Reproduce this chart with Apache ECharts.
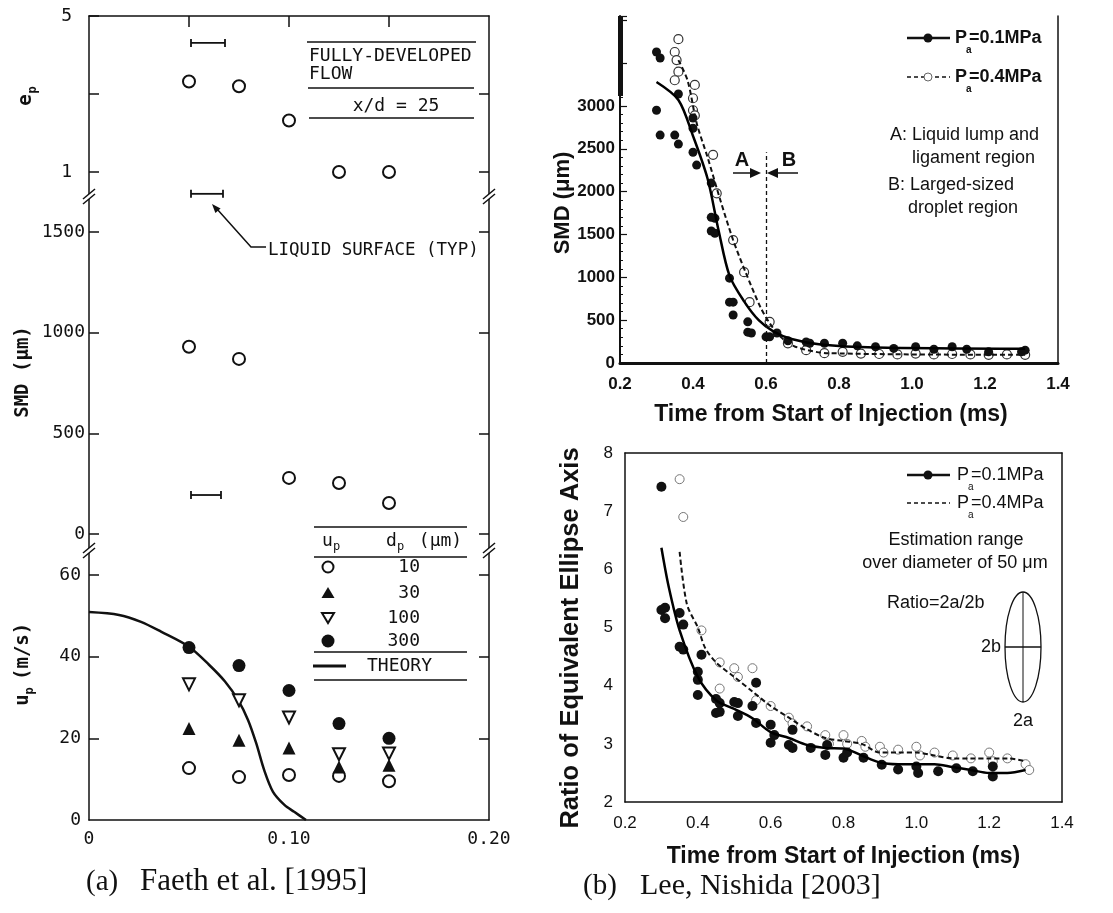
<!DOCTYPE html>
<html><head><meta charset="utf-8">
<script src="https://cdn.jsdelivr.net/npm/echarts@6/dist/echarts.min.js"></script>
<style>html,body{margin:0;padding:0;background:#fff}#c{width:1113px;height:913px}</style>
</head><body><div id="c"></div>
<script>
// ===== (a) Faeth et al. [1995] : r/x (radial position) =====
const radialPos = [0.05, 0.075, 0.10, 0.125, 0.15];
const epValues  = [3.32, 3.20, 2.32, 1.00, 1.00];
const smdValues = [930, 870, 279, 254, 154];
const upD10  = [12.7, 10.5, 11.0, 10.8, 9.5];
const upD30  = [22.4, 19.5, 17.6, 13.0, 13.4];
const upD100 = [33.2, 29.3, 25.1, 16.1, 16.3];
const upD300 = [42.2, 37.8, 31.7, 23.6, 20.0];
const theoryR = [0, 0.015, 0.026, 0.036, 0.05, 0.06, 0.068, 0.0745, 0.0795, 0.0836, 0.0876, 0.092, 0.0977, 0.1026, 0.1085];
const theoryU = [50.9, 50.2, 48.5, 46.1, 42.4, 38.0, 33.9, 29.4, 24.5, 18.8, 12.2, 6.9, 3.7, 2.0, 0];
const epSurfaceBars  = [[0.051, 0.068, 4.31], [0.051, 0.067, 0.44]];
const smdSurfaceBars = [[0.051, 0.066, 194]];
const epTickVals = [1, 3, 5], epLabelVals = [1, 5];
const smdTickVals = [0, 500, 1000, 1500];
const upTickVals = [20, 40, 60], upLabelVals = [0, 20, 40, 60];
const xTickLabelsA = [0, 0.10, 0.20];
const xTopTicksA = [0.05, 0.10, 0.15];

// ===== (b) Lee, Nishida [2003] : SMD vs time =====
const smdPts01 = [[0.30,3630],[0.31,3560],[0.30,2950],[0.31,2660],[0.35,2660],[0.36,2555],[0.36,3140],[0.40,2860],[0.40,2740],[0.40,2460],[0.41,2310],[0.45,2100],[0.45,1700],[0.46,1690],[0.45,1540],[0.46,1515],[0.50,990],[0.50,710],[0.51,710],[0.51,560],[0.55,480],[0.55,360],[0.56,350],[0.60,305],[0.61,305],[0.63,350],[0.66,260],[0.71,245],[0.72,230],[0.76,230],[0.81,230],[0.85,200],[0.90,190],[0.95,170],[1.01,190],[1.06,160],[1.11,190],[1.15,160],[1.21,130],[1.30,130],[1.31,150]];
const smdPts04 = [[0.36,3780],[0.35,3630],[0.355,3535],[0.36,3400],[0.35,3300],[0.405,3245],[0.40,3090],[0.40,2950],[0.405,2890],[0.455,2430],[0.465,1980],[0.51,1435],[0.54,1060],[0.555,710],[0.61,480],[0.66,230],[0.71,150],[0.76,115],[0.81,130],[0.86,110],[0.91,105],[0.96,100],[1.01,110],[1.06,100],[1.11,105],[1.16,100],[1.21,95],[1.26,100],[1.31,95]];
const smdFit01 = [[0.30,3280],[0.36,3070],[0.40,2650],[0.44,2150],[0.47,1550],[0.50,1020],[0.54,720],[0.58,500],[0.62,370],[0.67,280],[0.75,215],[0.90,180],[1.31,165]];
const smdFit04 = [[0.36,3535],[0.385,3300],[0.41,2800],[0.44,2400],[0.475,1900],[0.51,1435],[0.545,1050],[0.585,650],[0.61,465],[0.64,305],[0.68,190],[0.77,115],[1.31,95]];
const regionBoundary = 0.6;
const smdLabelVals = [0, 500, 1000, 1500, 2000, 2500, 3000];

// ===== (b) Ratio of equivalent ellipse axis vs time =====
const ratioPts01 = [[0.30,7.42],[0.30,5.30],[0.31,5.34],[0.31,5.16],[0.35,4.67],[0.36,4.62],[0.36,5.05],[0.35,5.25],[0.40,4.24],[0.40,4.10],[0.40,3.84],[0.41,4.53],[0.45,3.77],[0.46,3.70],[0.45,3.53],[0.46,3.55],[0.50,3.72],[0.51,3.70],[0.51,3.48],[0.55,3.65],[0.56,4.05],[0.56,3.36],[0.60,3.33],[0.61,3.15],[0.60,3.02],[0.65,2.98],[0.66,3.24],[0.66,2.93],[0.71,2.93],[0.75,2.81],[0.755,2.98],[0.80,2.76],[0.81,2.85],[0.855,2.76],[0.905,2.64],[0.95,2.56],[1.00,2.61],[1.005,2.50],[1.06,2.53],[1.11,2.58],[1.155,2.53],[1.21,2.44],[1.21,2.61]];
const ratioPts04 = [[0.35,7.55],[0.36,6.9],[0.41,4.95],[0.46,4.4],[0.46,3.95],[0.50,4.3],[0.51,4.15],[0.55,4.3],[0.56,3.75],[0.60,3.65],[0.65,3.45],[0.66,3.35],[0.70,3.3],[0.75,3.15],[0.76,3.0],[0.80,3.15],[0.81,3.0],[0.85,3.05],[0.86,2.95],[0.90,2.95],[0.91,2.85],[0.95,2.9],[1.00,2.95],[1.01,2.8],[1.05,2.85],[1.10,2.8],[1.15,2.75],[1.20,2.85],[1.21,2.7],[1.25,2.75],[1.30,2.65],[1.31,2.55]];
const ratioFit01 = [[0.30,6.37],[0.32,5.7],[0.35,4.95],[0.40,4.15],[0.45,3.75],[0.50,3.6],[0.55,3.44],[0.60,3.2],[0.65,3.1],[0.70,2.98],[0.75,2.93],[0.80,2.92],[0.85,2.8],[0.90,2.68],[0.95,2.65],[1.00,2.65],[1.05,2.65],[1.10,2.6],[1.15,2.55],[1.20,2.5],[1.25,2.5],[1.30,2.55]];
const ratioFit04 = [[0.35,6.3],[0.37,5.4],[0.40,5.0],[0.42,4.65],[0.45,4.4],[0.50,4.15],[0.55,3.9],[0.60,3.65],[0.65,3.45],[0.70,3.25],[0.75,3.1],[0.80,3.05],[0.85,3.0],[0.90,2.85],[0.95,2.85],[1.00,2.85],[1.05,2.8],[1.10,2.75],[1.15,2.75],[1.20,2.75],[1.25,2.75],[1.30,2.7]];

const INK = '#111';
const MONO = '"DejaVu Sans Mono", monospace';
const SANS = '"Liberation Sans", Arial, sans-serif';
const SERIF = '"Liberation Serif", "Times New Roman", serif';

const zip = (xs, ys) => xs.map((x, i) => [x, ys[i]]);
const plain = v => String(v);

function errBar(params, api) {
  const y = api.value(2);
  const a = api.coord([api.value(0), y]);
  const b = api.coord([api.value(1), y]);
  const st = {stroke: INK, lineWidth: 1.8};
  return {type: 'group', children: [
    {type: 'line', shape: {x1: a[0], y1: a[1], x2: b[0], y2: b[1]}, style: st},
    {type: 'line', shape: {x1: a[0], y1: a[1] - 4, x2: a[0], y2: a[1] + 4}, style: st},
    {type: 'line', shape: {x1: b[0], y1: b[1] - 4, x2: b[0], y2: b[1] + 4}, style: st}
  ]};
}

const monoLabel = {fontFamily: MONO, fontSize: 18, color: INK};
function leftY(grid, min, max, ticks, labels, margin) {
  return {gridIndex: grid, type: 'value', position: 'left', min, max,
    axisLine: {show: true, lineStyle: {color: INK, width: 1.5}},
    axisTick: {show: true, inside: true, length: 10, customValues: ticks, lineStyle: {color: INK, width: 1.5}},
    axisLabel: Object.assign({show: labels.length > 0, customValues: labels, margin: margin, formatter: plain}, monoLabel),
    splitLine: {show: false}};
}
function rightY(grid, min, max, ticks) {
  return {gridIndex: grid, type: 'value', position: 'right', min, max,
    axisLine: {show: true, lineStyle: {color: INK, width: 1.5}},
    axisTick: {show: true, inside: true, length: 10, customValues: ticks, lineStyle: {color: INK, width: 1.5}},
    axisLabel: {show: false}, splitLine: {show: false}};
}
const openDot = (size, stroke, w) => ({symbol: 'circle', symbolSize: size, itemStyle: {color: '#fff', borderColor: stroke, borderWidth: w, opacity: 1}});
const fullDot = (size) => ({symbol: 'circle', symbolSize: size, itemStyle: {color: INK, opacity: 1}});

const option = {
  backgroundColor: '#fff',
  animation: false,
  grid: [
    {left: 89, top: 16, width: 400, height: 182, outerBoundsMode: 'none'},
    {left: 89, top: 198, width: 400, height: 354, outerBoundsMode: 'none'},
    {left: 89, top: 552, width: 400, height: 268, outerBoundsMode: 'none'},
    {left: 620, top: 16, width: 438, height: 347, outerBoundsMode: 'none'},
    {left: 625, top: 453, width: 437, height: 349, outerBoundsMode: 'none'}
  ],
  xAxis: [
    {gridIndex: 0, type: 'value', position: 'top', min: 0, max: 0.2,
     axisLine: {show: true, lineStyle: {color: INK, width: 1.5}},
     axisTick: {show: true, inside: true, length: 11, customValues: xTopTicksA, lineStyle: {color: INK, width: 1.5}},
     axisLabel: {show: false}, splitLine: {show: false}},
    {gridIndex: 1, type: 'value', min: 0, max: 0.2, show: false},
    {gridIndex: 2, type: 'value', position: 'bottom', min: 0, max: 0.2,
     axisLine: {show: true, lineStyle: {color: INK, width: 1.5}},
     axisTick: {show: false},
     axisLabel: Object.assign({customValues: xTickLabelsA, margin: 10, formatter: v => v === 0 ? '0' : v.toFixed(2)}, monoLabel),
     splitLine: {show: false}},
    {gridIndex: 3, type: 'value', position: 'bottom', min: 0.2, max: 1.4, interval: 0.2,
     name: 'Time from Start of Injection (ms)', nameLocation: 'middle', nameGap: 40,
     nameTextStyle: {fontFamily: SANS, fontSize: 23, fontWeight: 'bold', color: INK, padding: [0, 16, 0, 0]},
     axisLine: {show: true, lineStyle: {color: INK, width: 2}},
     axisTick: {show: false},
     axisLabel: {margin: 13, fontFamily: SANS, fontSize: 17, fontWeight: 'bold', color: INK, formatter: v => v.toFixed(1)},
     splitLine: {show: false}},
    {gridIndex: 3, type: 'value', position: 'top', min: 0.2, max: 1.4,
     axisLine: {show: true, lineStyle: {color: INK, width: 3}}, axisTick: {show: false}, axisLabel: {show: false}, splitLine: {show: false}},
    {gridIndex: 4, type: 'value', position: 'bottom', min: 0.2, max: 1.4, interval: 0.2,
     name: 'Time from Start of Injection (ms)', nameLocation: 'middle', nameGap: 43,
     nameTextStyle: {fontFamily: SANS, fontSize: 23, fontWeight: 'bold', color: INK},
     axisLine: {show: true, lineStyle: {color: INK, width: 1.5}},
     axisTick: {show: false},
     axisLabel: {margin: 13, fontFamily: SANS, fontSize: 17, color: INK, formatter: v => v.toFixed(1)},
     splitLine: {show: false}},
    {gridIndex: 4, type: 'value', position: 'top', min: 0.2, max: 1.4,
     axisLine: {show: true, lineStyle: {color: INK, width: 1.5}}, axisTick: {show: false}, axisLabel: {show: false}, splitLine: {show: false}}
  ],
  yAxis: [
    leftY(0, 0.333, 5, epTickVals, epLabelVals, 17),
    rightY(0, 0.333, 5, [1, 3]),
    leftY(1, -89, 1669, smdTickVals, smdTickVals, 4),
    rightY(1, -89, 1669, smdTickVals),
    leftY(2, 0, 65.6, upTickVals, upLabelVals, 8),
    rightY(2, 0, 65.6, upTickVals),
    {gridIndex: 3, type: 'value', position: 'left', min: 0, max: 4050, interval: 500,
     axisLine: {show: true, lineStyle: {color: INK, width: 2}},
     axisTick: {show: true, inside: true, length: 7, lineStyle: {color: INK, width: 1.2}},
     minorTick: {show: true, splitNumber: 5, length: 3, lineStyle: {color: INK, width: 1}},
     axisLabel: {customValues: smdLabelVals, margin: 5, fontFamily: SANS, fontSize: 17, fontWeight: 'bold', color: INK, formatter: plain},
     splitLine: {show: false}},
    {gridIndex: 3, type: 'value', position: 'right', min: 0, max: 4050,
     axisLine: {show: true, lineStyle: {color: INK, width: 1.5}}, axisTick: {show: false}, axisLabel: {show: false}, splitLine: {show: false}},
    {gridIndex: 4, type: 'value', position: 'left', min: 2, max: 8, interval: 1,
     axisLine: {show: true, lineStyle: {color: INK, width: 1.5}},
     axisTick: {show: false},
     axisLabel: {margin: 12, fontFamily: SANS, fontSize: 17, color: INK, formatter: plain},
     splitLine: {show: false}},
    {gridIndex: 4, type: 'value', position: 'right', min: 2, max: 8,
     axisLine: {show: true, lineStyle: {color: INK, width: 1.5}}, axisTick: {show: false}, axisLabel: {show: false}, splitLine: {show: false}}
  ],
  series: [
    // ---- (a) e_p ----
    Object.assign({type: 'scatter', xAxisIndex: 0, yAxisIndex: 0, data: zip(radialPos, epValues)}, openDot(12, INK, 2)),
    {type: 'custom', xAxisIndex: 0, yAxisIndex: 0, data: epSurfaceBars, renderItem: errBar, encode: {x: [0, 1], y: 2}, clip: false},
    // ---- (a) SMD ----
    Object.assign({type: 'scatter', xAxisIndex: 1, yAxisIndex: 2, data: zip(radialPos, smdValues)}, openDot(12, INK, 2)),
    {type: 'custom', xAxisIndex: 1, yAxisIndex: 2, data: smdSurfaceBars, renderItem: errBar, encode: {x: [0, 1], y: 2}},
    // ---- (a) u_p ----
    {type: 'line', name: 'THEORY', xAxisIndex: 2, yAxisIndex: 4, data: zip(theoryR, theoryU), smooth: 0.3, showSymbol: false,
     lineStyle: {color: INK, width: 2.5}, z: 1},
    Object.assign({type: 'scatter', name: '10', xAxisIndex: 2, yAxisIndex: 4, data: zip(radialPos, upD10)}, openDot(12, INK, 2)),
    {type: 'scatter', name: '30', xAxisIndex: 2, yAxisIndex: 4, data: zip(radialPos, upD30), symbol: 'triangle', symbolSize: 13,
     itemStyle: {color: INK, opacity: 1}},
    {type: 'scatter', name: '100', xAxisIndex: 2, yAxisIndex: 4, data: zip(radialPos, upD100), symbol: 'triangle', symbolRotate: 180, symbolSize: 12,
     itemStyle: {color: '#fff', borderColor: INK, borderWidth: 2, opacity: 1}},
    Object.assign({type: 'scatter', name: '300', xAxisIndex: 2, yAxisIndex: 4, data: zip(radialPos, upD300)}, fullDot(13)),
    // ---- (b) SMD ----
    Object.assign({type: 'scatter', xAxisIndex: 3, yAxisIndex: 6, data: smdPts04}, openDot(9, '#333', 1.2)),
    Object.assign({type: 'scatter', xAxisIndex: 3, yAxisIndex: 6, data: smdPts01}, fullDot(9)),
    {type: 'line', xAxisIndex: 3, yAxisIndex: 6, data: smdFit04, smooth: 0.3, showSymbol: false,
     lineStyle: {color: INK, width: 2, type: [5, 3]}},
    {type: 'line', xAxisIndex: 3, yAxisIndex: 6, data: smdFit01, smooth: 0.3, showSymbol: false,
     lineStyle: {color: '#000', width: 2.5},
     markLine: {silent: true, symbol: ['none', 'none'], label: {show: false},
       lineStyle: {color: INK, width: 1.3, type: [4, 3]},
       data: [[{coord: [regionBoundary, 0]}, {coord: [regionBoundary, 2460]}]]}},
    // ---- (b) Ratio ----
    Object.assign({type: 'scatter', xAxisIndex: 5, yAxisIndex: 8, data: ratioPts04}, openDot(9, '#777', 1)),
    {type: 'line', xAxisIndex: 5, yAxisIndex: 8, data: ratioFit04, smooth: 0.3, showSymbol: false,
     lineStyle: {color: INK, width: 2, type: [5, 3]}},
    Object.assign({type: 'scatter', xAxisIndex: 5, yAxisIndex: 8, data: ratioPts01}, fullDot(10)),
    {type: 'line', xAxisIndex: 5, yAxisIndex: 8, data: ratioFit01, smooth: 0.3, showSymbol: false,
     lineStyle: {color: '#000', width: 2.5}}
  ]
};

// ---------- annotation graphics ----------
const G = [];
function txt(x, y, text, font, align, va, extra) {
  align = align || 'left'; va = va || 'middle';
  return Object.assign({type: 'text', x, y, z: 100, silent: true,
    style: {text, font, fill: INK, align, verticalAlign: va, textAlign: align, textVerticalAlign: va}}, extra || {});
}
function ln(x1, y1, x2, y2, w, dash) {
  return {type: 'line', z: 100, silent: true, shape: {x1, y1, x2, y2}, style: {stroke: INK, lineWidth: w || 1.5, lineDash: dash || null}};
}
function poly(points, fill, stroke, w) {
  return {type: 'polygon', z: 100, silent: true, shape: {points}, style: {fill: fill, stroke: stroke || null, lineWidth: w || 0}};
}
function brk(x, y) {
  G.push({type: 'rect', z: 99, silent: true, shape: {x: x - 3, y: y - 4, width: 6, height: 5}, style: {fill: '#fff'}});
  G.push(ln(x - 6, y + 1, x + 6, y - 9, 1.5));
  G.push(ln(x - 6, y + 6, x + 6, y - 4, 1.5));
}
const M18 = 'normal 18px ' + MONO;
const M12 = 'normal 12px ' + MONO;
const MB19 = 'bold 19px ' + MONO;

// (a) panel breaks
brk(89, 198); brk(489, 198); brk(89, 552); brk(489, 552);
// (a) axis names
G.push({type: 'group', x: 26, y: 100, rotation: Math.PI / 2, z: 100, children: [
  txt(0, 0, 'e', MB19, 'center', 'middle'), txt(10, 7, 'p', 'bold 12px ' + MONO, 'center', 'middle')]});
G.push({type: 'group', x: 23, y: 372, rotation: Math.PI / 2, z: 100, children: [
  txt(0, 0, 'SMD (μm)', MB19, 'center', 'middle')]});
G.push({type: 'group', x: 23, y: 700, rotation: Math.PI / 2, z: 100, children: [
  txt(0, 0, 'u', MB19, 'center', 'middle'), txt(9, 7, 'p', 'bold 12px ' + MONO, 'center', 'middle'),
  txt(20, 0, '(m/s)', MB19, 'left', 'middle')]});
// (a) flow description box
G.push(ln(307, 42, 476, 42));
G.push(txt(309, 56, 'FULLY-DEVELOPED', M18));
G.push(txt(309, 74, 'FLOW', M18));
G.push(ln(308, 88, 474, 88));
G.push(txt(396, 106, 'x/d = 25', M18, 'center'));
G.push(ln(309, 118, 474, 118));
// liquid surface annotation
G.push({type: 'polyline', z: 100, silent: true, shape: {points: [[266, 247], [251, 247], [217, 209]]}, style: {stroke: INK, lineWidth: 1.5, fill: null}});
G.push(poly([[212, 204], [220.6, 208.4], [215.4, 213]], INK));
G.push(txt(268, 250, 'LIQUID SURFACE (TYP)', 'normal 17.5px ' + MONO));
// (a) symbol table
G.push(ln(314, 527, 467, 527)); G.push(ln(314, 557, 467, 557));
G.push(ln(314, 652, 467, 652)); G.push(ln(314, 680, 467, 680));
G.push(txt(322, 541, 'u', M18, 'left')); G.push(txt(333, 547, 'p', M12, 'left'));
G.push(txt(386, 541, 'd', M18, 'left')); G.push(txt(397, 547, 'p', M12, 'left'));
G.push(txt(408, 541, ' (μm)', M18, 'left'));
G.push({type: 'circle', z: 100, silent: true, shape: {cx: 328, cy: 567, r: 5.5}, style: {fill: '#fff', stroke: INK, lineWidth: 2}});
G.push(poly([[328, 587], [334.5, 598], [321.5, 598]], INK));
G.push(poly([[322, 613], [334, 613], [328, 623]], '#fff', INK, 2));
G.push({type: 'circle', z: 100, silent: true, shape: {cx: 328, cy: 641, r: 6.5}, style: {fill: INK}});
G.push(txt(420, 567, '10', M18, 'right')); G.push(txt(420, 593, '30', M18, 'right'));
G.push(txt(420, 618, '100', M18, 'right')); G.push(txt(420, 641, '300', M18, 'right'));
G.push(ln(313, 666, 346, 666, 3));
G.push(txt(367, 666, 'THEORY', M18));

// (b) axis names (rotated)
G.push({type: 'group', x: 563, y: 203, rotation: Math.PI / 2, z: 100, children: [
  txt(0, 0, 'SMD (μm)', 'bold 22px ' + SANS, 'center', 'middle')]});
G.push({type: 'group', x: 571, y: 638, rotation: Math.PI / 2, z: 100, children: [
  txt(0, 0, 'Ratio of Equivalent Ellipse Axis', 'bold 25.5px ' + SANS, 'center', 'middle')]});
// (b) SMD legend & notes
const SB18 = 'bold 18px ' + SANS, SB10 = 'bold 10px ' + SANS, S18 = 'normal 18px ' + SANS, S10 = 'normal 10px ' + SANS;
G.push(ln(907, 38, 950, 38, 2.5));
G.push({type: 'circle', z: 100, silent: true, shape: {cx: 928, cy: 38, r: 4.5}, style: {fill: INK}});
G.push(txt(955, 38, 'P', SB18)); G.push(txt(966, 50, 'a', SB10)); G.push(txt(969, 38, '=0.1MPa', SB18));
G.push(ln(907, 77, 950, 77, 1.6, [4, 3]));
G.push({type: 'circle', z: 100, silent: true, shape: {cx: 928, cy: 77, r: 4}, style: {fill: '#fff', stroke: '#666', lineWidth: 1}});
G.push(txt(955, 77, 'P', SB18)); G.push(txt(966, 89, 'a', SB10)); G.push(txt(969, 77, '=0.4MPa', SB18));
G.push(txt(890, 135, 'A: Liquid lump and', S18));
G.push(txt(912, 158, 'ligament region', S18));
G.push(txt(888, 185, 'B: Larged-sized', S18));
G.push(txt(908, 208, 'droplet region', S18));
G.push(txt(742, 160, 'A', 'bold 20px ' + SANS, 'center'));
G.push(txt(789, 160, 'B', 'bold 20px ' + SANS, 'center'));
G.push(ln(733, 173, 752, 173, 1.5)); G.push(poly([[761, 173], [750, 168], [750, 178]], INK));
G.push(ln(798, 173, 777, 173, 1.5)); G.push(poly([[767, 173], [778, 168], [778, 178]], INK));
G.push({type: 'rect', z: 100, silent: true, shape: {x: 618, y: 16, width: 5, height: 80}, style: {fill: INK}});

// (b) ratio legend & notes
G.push(ln(907, 475, 950, 475, 2.5));
G.push({type: 'circle', z: 100, silent: true, shape: {cx: 928, cy: 475, r: 4.5}, style: {fill: INK}});
G.push(txt(957, 475, 'P', S18)); G.push(txt(968, 487, 'a', S10)); G.push(txt(971, 475, '=0.1MPa', S18));
G.push(ln(907, 503, 950, 503, 1.4, [4, 3]));
G.push(txt(957, 503, 'P', S18)); G.push(txt(968, 515, 'a', S10)); G.push(txt(971, 503, '=0.4MPa', S18));
G.push(txt(956, 540, 'Estimation range', S18, 'center'));
G.push(txt(955, 563, 'over diameter of 50 μm', S18, 'center'));
G.push(txt(887, 603, 'Ratio=2a/2b', S18));
G.push({type: 'ellipse', z: 100, silent: true, shape: {cx: 1023, cy: 647, rx: 18, ry: 55}, style: {fill: null, stroke: INK, lineWidth: 1.3}});
G.push(ln(1005, 647, 1041, 647, 1.3)); G.push(ln(1023, 592, 1023, 702, 1));
G.push(txt(1001, 647, '2b', S18, 'right'));
G.push(txt(1023, 721, '2a', S18, 'center'));

// captions
G.push(txt(86, 882, '(a)', 'normal 29px ' + SERIF));
G.push(txt(140, 882, 'Faeth et al. [1995]', 'normal 31px ' + SERIF));
G.push(txt(583, 886, '(b)', 'normal 29px ' + SERIF));
G.push(txt(640, 886, 'Lee, Nishida [2003]', 'normal 30px ' + SERIF));

option.graphic = {elements: G};

const chart = echarts.init(document.getElementById('c'), null, {renderer: 'canvas'});
chart.setOption(option);
</script></body></html>
